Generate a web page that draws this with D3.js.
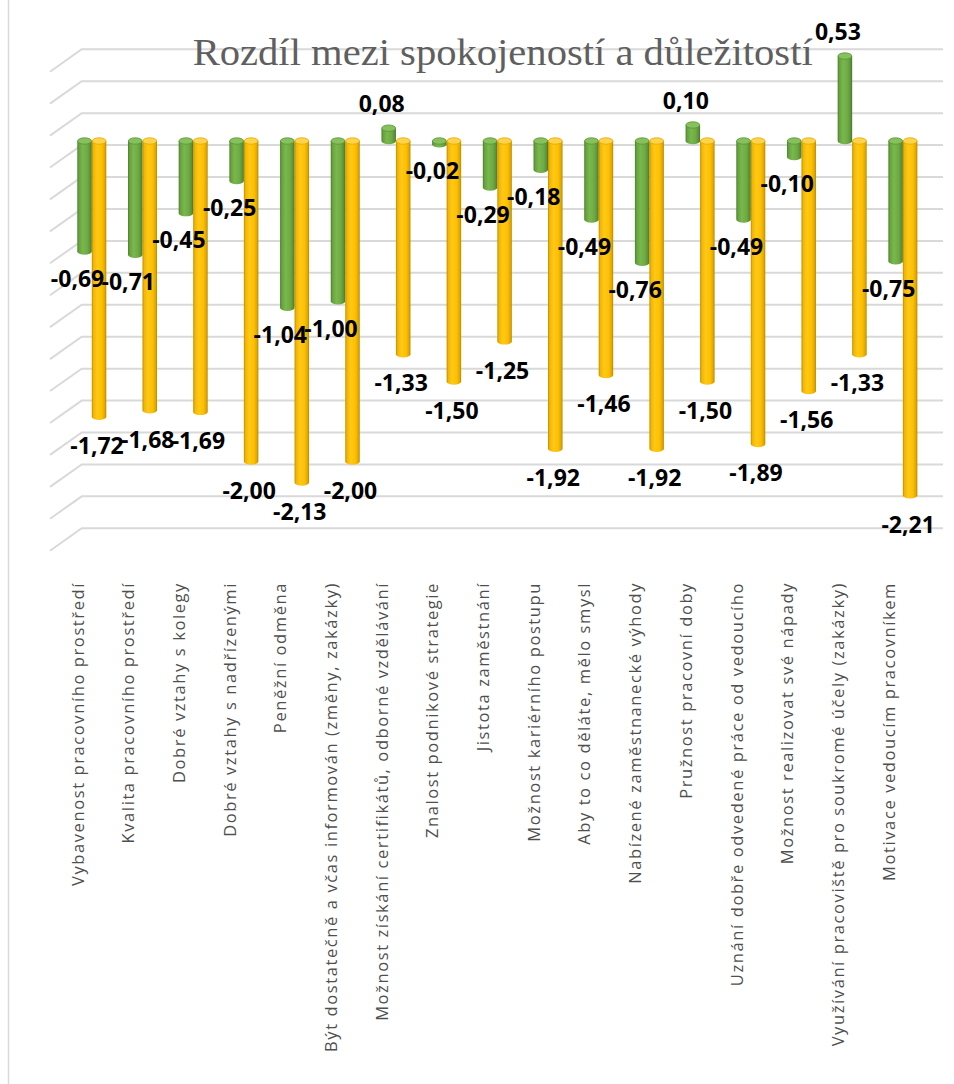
<!DOCTYPE html>
<html><head><meta charset="utf-8">
<script src="https://cdn.jsdelivr.net/npm/d3@7"></script>
<style>html,body{margin:0;padding:0;background:#fff;} svg{display:block;}</style>
</head><body>
<script>
const categories = [
  "Vybavenost pracovního prostředí",
  "Kvalita pracovního prostředí",
  "Dobré vztahy s kolegy",
  "Dobré vztahy s nadřízenými",
  "Peněžní odměna",
  "Být dostatečně a včas informován (změny, zakázky)",
  "Možnost získání certifikátů, odborné vzdělávání",
  "Znalost podnikové strategie",
  "Jistota zaměstnání",
  "Možnost kariérního postupu",
  "Aby to co děláte, mělo smysl",
  "Nabízené zaměstnanecké výhody",
  "Pružnost pracovní doby",
  "Uznání dobře odvedené práce od vedoucího",
  "Možnost realizovat své nápady",
  "Využívání pracoviště pro soukromé účely (zakázky)",
  "Motivace vedoucím pracovníkem"
];
const seriesGreen  = [-0.69,-0.71,-0.45,-0.25,-1.04,-1.00,0.08,-0.02,-0.29,-0.18,-0.49,-0.76,0.10,-0.49,-0.10,0.53,-0.75];
const seriesYellow = [-1.72,-1.68,-1.69,-2.00,-2.13,-2.00,-1.33,-1.50,-1.25,-1.92,-1.46,-1.92,-1.50,-1.89,-1.56,-1.33,-2.21];
const gridValues = [-2.4,-2.2,-2.0,-1.8,-1.6,-1.4,-1.2,-1.0,-0.8,-0.6,-0.4,-0.2,0,0.2,0.4,0.6];
const seriesKeys = ["green","yellow"];
const chartTitle = "Rozdíl mezi spokojeností a důležitostí";

const W = 954, H = 1084;
const svg = d3.select("body").append("svg").attr("width", W).attr("height", H);
svg.append("rect").attr("width", W).attr("height", H).attr("fill", "#fff");
svg.append("line").attr("x1", 8.5).attr("x2", 8.5).attr("y1", 0).attr("y2", H)
  .attr("stroke", "#d9d9d9").attr("stroke-width", 1.5);

const loc = d3.formatLocale({decimal: ",", thousands: " ", grouping: [3], currency: ["", " Kč"], minus: "-"});
const fmt = loc.format(".2f");

const yWall = d3.scaleLinear().domain([-2.4, 0.6]).range([528.3, 49.3]);
const yBar = d3.scaleLinear().domain([0, 1]).range([141, 141 - 160.3]);
const x = d3.scaleBand().domain(categories).range([66.45, 928.2]).paddingInner(0.428).paddingOuter(0.214);
const xs = d3.scaleBand().domain(seriesKeys).range([0, x.bandwidth()]);

// gradients
const defs = svg.append("defs");
function grad(id, stops) {
  const g = defs.append("linearGradient").attr("id", id).attr("x1", 0).attr("x2", 1).attr("y1", 0).attr("y2", 0);
  stops.forEach(s => g.append("stop").attr("offset", s[0]).attr("stop-color", s[1]));
}
grad("gGreen", [[0, "#4d7d2e"], [0.12, "#67a23e"], [0.38, "#79b84d"], [0.7, "#6eaa45"], [0.9, "#5a9037"], [1, "#47752a"]]);
grad("gYellow", [[0, "#c08c00"], [0.12, "#f2b600"], [0.38, "#ffc818"], [0.7, "#fdc000"], [0.9, "#e0a600"], [1, "#b58600"]]);
const capFill = {green: "#86c25c", yellow: "#ffd34a"};
const capStroke = {green: "#5c9138", yellow: "#e2a800"};
const bodyFill = {green: "url(#gGreen)", yellow: "url(#gYellow)"};

// wall gridlines with side-wall diagonals
const wallLeft = 81.7, wallRight = 943, sideDx = -31.7, sideDy = 22.4;
svg.append("g").selectAll("path").data(gridValues).join("path")
  .attr("d", v => `M${wallLeft + sideDx},${yWall(v) + sideDy}L${wallLeft},${yWall(v)}L${wallRight},${yWall(v)}`)
  .attr("fill", "none").attr("stroke", "#d9d9d9").attr("stroke-width", 2);

// title
svg.append("text").attr("x", 502.7).attr("y", 65)
  .attr("text-anchor", "middle")
  .attr("font-family", "'Liberation Serif', 'DejaVu Serif', serif")
  .attr("font-size", 38).attr("fill", "#5f5f5f")
  .attr("textLength", 620).attr("lengthAdjust", "spacingAndGlyphs")
  .text(chartTitle);

// bars data
const bars = [];
categories.forEach((c, i) => {
  bars.push({cat: c, key: "green", value: seriesGreen[i]});
  bars.push({cat: c, key: "yellow", value: seriesYellow[i]});
});
const ry = 3.2;
function cylPath(d) {
  const xl = x(d.cat) + xs(d.key), w = xs.bandwidth(), rx = w / 2;
  const y0 = Math.min(yBar(0), yBar(d.value)), y1 = Math.max(yBar(0), yBar(d.value));
  return `M${xl},${y0}L${xl},${y1}A${rx},${ry} 0 0 0 ${xl + w},${y1}L${xl + w},${y0}Z`;
}
const gBars = svg.append("g");
const bg = gBars.selectAll("g").data(bars).join("g");
bg.append("path").attr("d", cylPath).attr("fill", d => bodyFill[d.key]);
bg.append("ellipse")
  .attr("cx", d => x(d.cat) + xs(d.key) + xs.bandwidth() / 2)
  .attr("cy", d => Math.min(yBar(0), yBar(d.value)))
  .attr("rx", xs.bandwidth() / 2 - 0.3).attr("ry", ry)
  .attr("fill", d => capFill[d.key]).attr("stroke", d => capStroke[d.key]).attr("stroke-width", 0.8);

// data labels
const lbl = svg.append("g").attr("font-family", "'Open Sans', sans-serif").attr("font-weight", 700)
  .attr("font-size", 23).attr("fill", "#000").attr("text-anchor", "middle");
lbl.selectAll("text").data(bars).join("text")
  .attr("x", d => x(d.cat) + xs(d.key) + xs.bandwidth() / 2 + (d.key === "green" ? -7 : -2))
  .attr("y", d => yBar(d.value) + (d.key === "yellow" ? 29 : (d.value < 0 ? 27 : -24)))
  .attr("dy", "0.36em")
  .text(d => fmt(d.value));

// category axis labels
svg.append("g").selectAll("text").data(categories).join("text")
  .attr("transform", d => `translate(${x(d) + x.bandwidth() / 2 - 14},582) rotate(-90)`)
  .attr("text-anchor", "end").attr("dy", "0.35em")
  .attr("font-family", "'Open Sans', sans-serif").attr("font-size", 16.5)
  .attr("letter-spacing", 1.6).attr("fill", "#4f4f4f")
  .text(d => d);
</script>
</body></html>
